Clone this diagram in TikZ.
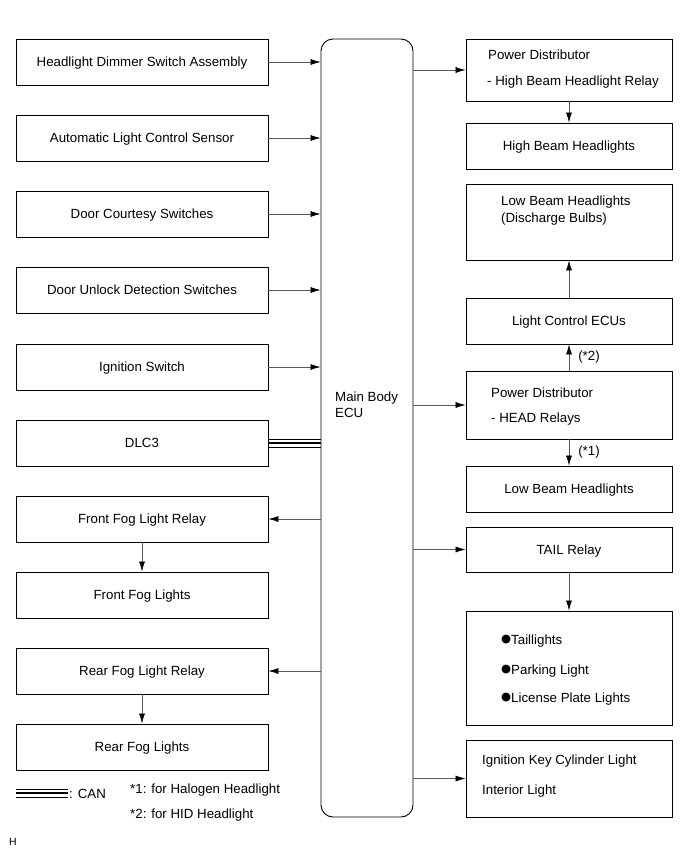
\documentclass[tikz,border=0pt]{standalone}
\usepackage{fontspec}
\setmainfont{Liberation Sans}
\newfontfamily\symfont{DejaVu Sans}
\usetikzlibrary{arrows.meta}

\tikzset{
  box/.style={draw, line width=0.9pt, inner sep=0pt, text height=9.6pt, text depth=0pt},
  lbox/.style={box, minimum width=252pt, minimum height=46pt},
  rbox/.style={box, minimum width=206pt},
  arr/.style={draw=black!65, line width=0.6pt, -{Latex[length=10pt,width=6pt,color=black]}},
  txt/.style={anchor=base west, inner sep=0pt},
}

\begin{document}
\begin{tikzpicture}[x=1pt,y=-1pt,font=\fontsize{13.3}{16}\selectfont]
  \def\bul{\raisebox{1.3pt}{\symfont\fontsize{11.5}{12}\selectfont ●}}
  \useasboundingbox (0,0) rectangle (691,855);

  % inputs and outputs on the left
  \node[lbox] (hdim)  at (142,62)  {Headlight Dimmer Switch Assembly};
  \node[lbox] (alcs)  at (142,138) {Automatic Light Control Sensor};
  \node[lbox] (dcsw)  at (142,214) {Door Courtesy Switches};
  \node[lbox] (dusw)  at (142,290) {Door Unlock Detection Switches};
  \node[lbox] (igsw)  at (142,367) {Ignition Switch};
  \node[lbox] (dlc)   at (142,443) {DLC3};
  \node[lbox] (ffrly) at (142,519) {Front Fog Light Relay};
  \node[lbox] (ffl)   at (142,595) {Front Fog Lights};
  \node[lbox] (rfrly) at (142,671) {Rear Fog Light Relay};
  \node[lbox] (rfl)   at (142,747) {Rear Fog Lights};

  % main body ecu
  \node[box, text height=, text depth=, rounded corners=12pt, minimum width=92pt, minimum height=778pt] (ecu) at (367,428) {};
  \node[align=left, anchor=west, inner sep=0pt] (ecut) at (335,405) {Main Body\\ECU};

  % right column
  \node[rbox, minimum height=62pt] (pdhb) at (569,70) {};
  \node[txt] (pdhb1) at (488,59) {Power Distributor};
  \node[txt] (pdhb2) at (487,85) {- High Beam Headlight Relay};
  \node[rbox, minimum height=46pt] (hbh) at (569,146) {High Beam Headlights};
  \node[rbox, minimum height=76pt] (lbd) at (569,222) {};
  \node[txt] (lbd1) at (501,205) {Low Beam Headlights};
  \node[txt] (lbd2) at (501,222) {(Discharge Bulbs)};
  \node[rbox, minimum height=46pt] (lce) at (569,321) {Light Control ECUs};
  \node[rbox, minimum height=68pt] (pdhd) at (569,405) {};
  \node[txt] (pdhd1) at (491,397) {Power Distributor};
  \node[txt] (pdhd2) at (491,422) {- HEAD Relays};
  \node[rbox, minimum height=46pt] (lbh) at (569,489) {Low Beam Headlights};
  \node[rbox, minimum height=45pt] (tail) at (569,549.5) {TAIL Relay};
  \node[rbox, minimum height=114pt] (tlgt) at (569,668) {};
  \node[txt] (tlgt1) at (501,644) {\bul Taillights};
  \node[txt] (tlgt2) at (501,674) {\bul Parking Light};
  \node[txt] (tlgt3) at (501,702) {\bul License Plate Lights};
  \node[rbox, minimum height=77pt] (iklt) at (569,778.5) {};
  \node[txt] (iklt1) at (482,764) {Ignition Key Cylinder Light};
  \node[txt] (iklt2) at (482,794) {Interior Light};

  % connectors
  \foreach \n in {hdim,alcs,dcsw,dusw,igsw}
    \draw[arr] (\n.east) -- (\n.east -| ecu.west);
  \foreach \n in {ffrly,rfrly}
    \draw[arr] (\n.east -| ecu.west) -- (\n.east);
  \foreach \n in {pdhb,pdhd,tail,iklt}
    \draw[arr] (\n.west -| ecu.east) -- (\n.west);
  \foreach \a/\b in {ffrly/ffl,rfrly/rfl,pdhb/hbh,tail/tlgt}
    \draw[arr] (\a.south) -- (\b.north);
  \draw[arr] (lce.north) -- (lbd.south);
  \draw[arr] (pdhd.north) -- node[anchor=west, inner sep=0pt, xshift=9pt] (hid) {(*2)} (lce.south);
  \draw[arr] (pdhd.south) -- node[anchor=west, inner sep=0pt, xshift=9pt] (hal) {(*1)} (lbh.north);

  % CAN
  \foreach \s/\w in {4/0.8pt,0/2.8pt,-4/0.8pt}
    \draw[line width=\w] ([yshift=\s pt]dlc.east) -- ([yshift=\s pt]dlc.east -| ecu.west);

  % legend
  \coordinate (cana) at (16,793);
  \coordinate (canb) at (68,793);
  \foreach \s/\w in {4/0.8pt,0/2.8pt,-4/0.8pt}
    \draw[line width=\w] ([yshift=\s pt]cana) -- ([yshift=\s pt]canb);
  \node[txt] (cant) at (69,798) {: CAN};
  \node[txt] (fn1) at (130,793) {*1: for Halogen Headlight};
  \node[txt] (fn2) at (130,818) {*2: for HID Headlight};
  \node[txt, font=\fontsize{10.5}{12}\selectfont] (hmark) at (9,845) {H};
\end{tikzpicture}
\end{document}
